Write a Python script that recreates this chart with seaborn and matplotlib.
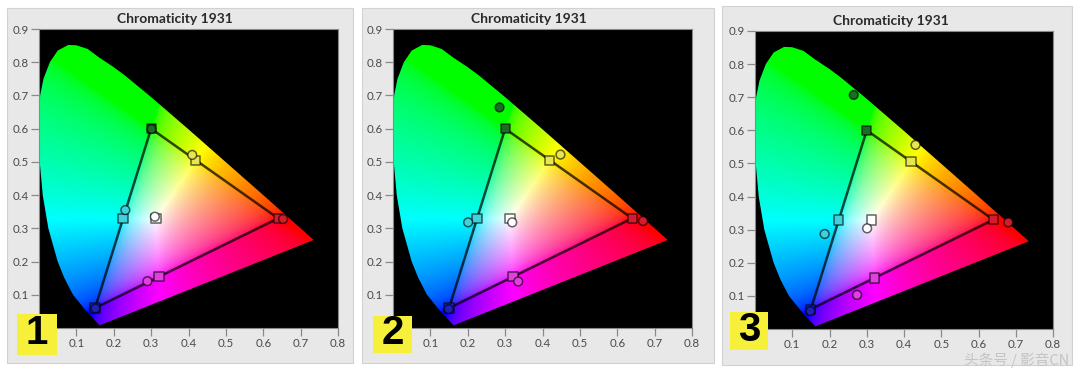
import numpy as np
import pandas as pd
import matplotlib
matplotlib.use("Agg")
import matplotlib.pyplot as plt
import seaborn as sns
from matplotlib.patches import Polygon, Rectangle

sns.set_style("ticks")
plt.rcParams['font.family'] = ['Lato', 'DejaVu Sans']

# ---- data -------------------------------------------------------------
# spectral locus boundary
locus_x = [0.162, 0.127, 0.091, 0.068, 0.050, 0.025, 0.010, 0.002, 0.000, 0.003,
           0.012, 0.029, 0.050, 0.078, 0.100, 0.130, 0.160, 0.200, 0.230, 0.300,
           0.400, 0.500, 0.600, 0.700, 0.735]
locus_y = [0.008, 0.050, 0.100, 0.150, 0.200, 0.300, 0.400, 0.500, 0.600, 0.700,
           0.750, 0.800, 0.835, 0.852, 0.851, 0.840, 0.815, 0.785, 0.760, 0.695,
           0.598, 0.499, 0.400, 0.300, 0.265]

channels = ["R", "G", "B", "C", "M", "Y", "W"]
target_x = [0.640, 0.300, 0.150, 0.225, 0.321, 0.419, 0.313]
target_y = [0.330, 0.600, 0.060, 0.329, 0.154, 0.505, 0.329]

meas1_x = [0.653, 0.301, 0.151, 0.231, 0.290, 0.410, 0.310]
meas1_y = [0.328, 0.599, 0.059, 0.355, 0.141, 0.521, 0.335]
meas2_x = [0.669, 0.285, 0.149, 0.201, 0.335, 0.448, 0.319]
meas2_y = [0.322, 0.664, 0.057, 0.318, 0.140, 0.522, 0.318]
meas3_x = [0.680, 0.265, 0.149, 0.187, 0.274, 0.431, 0.301]
meas3_y = [0.322, 0.707, 0.054, 0.287, 0.103, 0.556, 0.304]

panel_labels = ["1", "2", "3"]
x_ticks = [0.1, 0.2, 0.3, 0.4, 0.5, 0.6, 0.7, 0.8]
y_ticks = [0.1, 0.2, 0.3, 0.4, 0.5, 0.6, 0.7, 0.8, 0.9]

fill_colors = {"R": "#d41c2c", "G": "#1e6b26", "B": "#1c22b8", "C": "#40d2dc",
               "M": "#e23fe0", "Y": "#e6e650", "W": "#ffffff"}

# ---- figure -----------------------------------------------------------
W, H = 1080, 372
fig = plt.figure(figsize=(W / 100, H / 100), dpi=100)
fig.patch.set_facecolor("white")

def fx(px):
    return px / W

def fy(py):
    return 1 - py / H

panel_bg = [(7, 8, 353, 363), (362, 8, 714, 363), (722, 6, 1072, 365)]
axes_px = [(39, 29, 338, 328), (393, 29, 692, 328), (755, 31, 1053, 329)]
badge_px = [(17, 314, 57, 355), (373, 316, 412, 353), (730, 312, 768, 350)]
meas = [(meas1_x, meas1_y), (meas2_x, meas2_y), (meas3_x, meas3_y)]

for (l, t, r, b) in panel_bg:
    fig.patches.append(Rectangle((fx(l), fy(b)), fx(r - l), (b - t) / H,
                                 transform=fig.transFigure, facecolor="#e8e8e8",
                                 edgecolor="#d2d2d2", linewidth=0.8, zorder=-5))

# chromaticity colour image
gx = np.linspace(0, 0.8, 480)
gy = np.linspace(0, 0.9, 540)
GX, GY = np.meshgrid(gx, gy)
Yc = np.clip(GY, 1e-4, None)
Xv = GX / Yc
Zv = np.clip(1 - GX - GY, 0, None) / Yc
Mx = np.array([[3.2406, -1.5372, -0.4986],
               [-0.9689, 1.8758, 0.0415],
               [0.0557, -0.2040, 1.0570]])
lin = np.stack([Mx[i, 0] * Xv + Mx[i, 1] + Mx[i, 2] * Zv for i in range(3)], axis=-1)
lin = np.clip(lin, 0, None)
lin = lin / np.clip(lin.max(axis=-1, keepdims=True), 1e-6, None)
rgb = np.where(lin <= 0.0031308, 12.92 * lin, 1.055 * np.power(lin, 1 / 2.4) - 0.055)
rgb = np.clip(rgb, 0, 1)

for k, (l, t, r, b) in enumerate(axes_px):
    ax = fig.add_axes([fx(l), fy(b), fx(r - l), (b - t) / H])
    ax.set_facecolor("black")
    ax.set_xlim(0, 0.8)
    ax.set_ylim(0, 0.9)
    im = ax.imshow(rgb, origin="lower", extent=[0, 0.8, 0, 0.9], aspect="auto",
                   interpolation="bilinear", zorder=1)
    poly = Polygon(np.column_stack([locus_x, locus_y]), closed=True,
                   transform=ax.transData, facecolor="none", edgecolor="none")
    ax.add_patch(poly)
    im.set_clip_path(poly)

    # gamut triangle G -> R -> B -> G
    order = [1, 0, 2, 1]
    tri = pd.DataFrame({"x": [target_x[i] for i in order],
                        "y": [target_y[i] for i in order]})
    sns.lineplot(data=tri, x="x", y="y", sort=False, estimator=None, ax=ax,
                 color="black", alpha=0.72, linewidth=1.8, zorder=3)

    tdf = pd.DataFrame({"x": target_x, "y": target_y, "ch": channels})
    sns.scatterplot(data=tdf, x="x", y="y", hue="ch", palette=fill_colors,
                    marker="s", s=44, edgecolor=(0, 0, 0, 0.6), linewidth=1.1,
                    legend=False, ax=ax, zorder=4)
    mx, my = meas[k]
    mdf = pd.DataFrame({"x": mx, "y": my, "ch": channels})
    sns.scatterplot(data=mdf, x="x", y="y", hue="ch", palette=fill_colors,
                    marker="o", s=40, edgecolor=(0, 0, 0, 0.6), linewidth=1.1,
                    legend=False, ax=ax, zorder=5)

    ax.set_xlabel("")
    ax.set_ylabel("")
    ax.set_xticks(x_ticks)
    ax.set_yticks(y_ticks)
    ax.set_xticklabels([f"{v:.1f}" for v in x_ticks])
    ax.set_yticklabels([f"{v:.1f}" for v in y_ticks])
    ax.tick_params(direction="out", length=6, width=0.9, color="#8a8a8a",
                   labelcolor="#4a4a4a", labelsize=8.3, pad=1.5)
    for sp in ax.spines.values():
        sp.set_color("#8a8a8a")
        sp.set_linewidth(0.8)
    ax.set_title("Chromaticity 1931", x=0.455, fontsize=10, fontweight="bold",
                 color="#2a2a2a", pad=4)

for (l, t, r, b), lab in zip(badge_px, panel_labels):
    fig.patches.append(Rectangle((fx(l), fy(b)), fx(r - l), (b - t) / H,
                                 transform=fig.transFigure, facecolor="#f6f03a",
                                 edgecolor="none", zorder=10))
    fig.text(fx((l + r) / 2), fy((t + b) / 2 - 1), lab, ha="center", va="center",
             fontsize=29, fontweight="bold", color="black", zorder=11,
             family=["Liberation Sans", "DejaVu Sans"])

fig.text(fx(1069), fy(360), "头条号 / 影音CN", ha="right", va="center",
         fontsize=10.5, color="#c4c4c4", zorder=12,
         family=["Noto Sans CJK SC", "DejaVu Sans"])

fig.savefig("out.png", dpi=100, facecolor="white")
